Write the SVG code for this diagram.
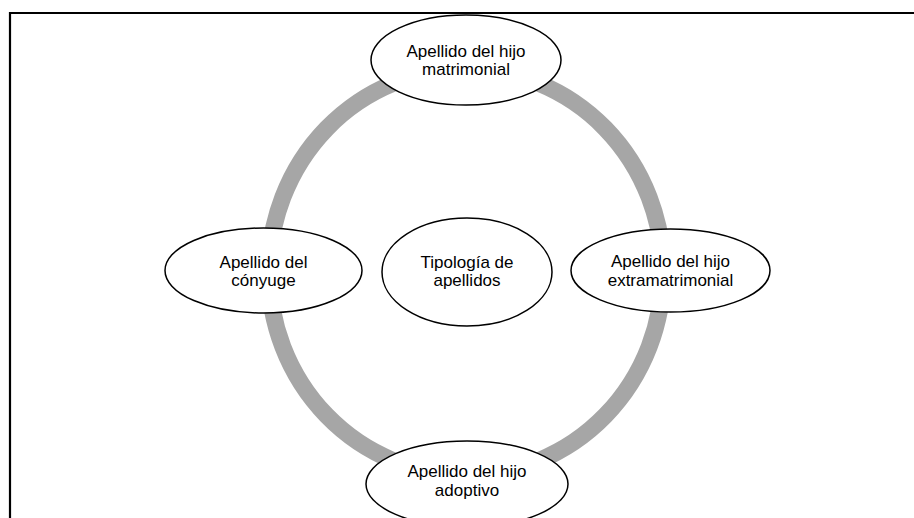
<svg xmlns="http://www.w3.org/2000/svg" width="914" height="518" viewBox="0 0 914 518">
<style>
.node ellipse{fill:#fff;stroke:#000;stroke-width:1.5}
.node text{font-family:"Liberation Sans",Arial,sans-serif;font-size:17px;fill:#000;text-anchor:middle}
.ring{fill:none;stroke:#a6a6a6;stroke-width:17}
</style>
<rect width="914" height="518" fill="#fff"/>
<path d="M10 518 V13 H914" fill="none" stroke="#000" stroke-width="2.2"/>
<g id="connectors">
<ellipse class="ring" cx="466" cy="272" rx="197" ry="203"/>
</g>
<g id="node-top" class="node">
<ellipse cx="466" cy="60" rx="95" ry="45"/>
<text x="466" y="57">Apellido del hijo</text>
<text x="466" y="75">matrimonial</text>
</g>
<g id="node-left" class="node">
<ellipse cx="263.5" cy="270.5" rx="98.5" ry="42.5"/>
<text x="263.5" y="268">Apellido del</text>
<text x="263.5" y="286">cónyuge</text>
</g>
<g id="node-center" class="node">
<ellipse cx="467" cy="272" rx="85" ry="54"/>
<text x="467" y="268">Tipología de</text>
<text x="467" y="286">apellidos</text>
</g>
<g id="node-right" class="node">
<ellipse cx="670.5" cy="270.5" rx="99.5" ry="41.5"/>
<text x="670.5" y="267">Apellido del hijo</text>
<text x="670.5" y="286">extramatrimonial</text>
</g>
<g id="node-bottom" class="node">
<ellipse cx="467" cy="484" rx="101" ry="43"/>
<text x="467" y="477">Apellido del hijo</text>
<text x="467" y="496">adoptivo</text>
</g>
</svg>
